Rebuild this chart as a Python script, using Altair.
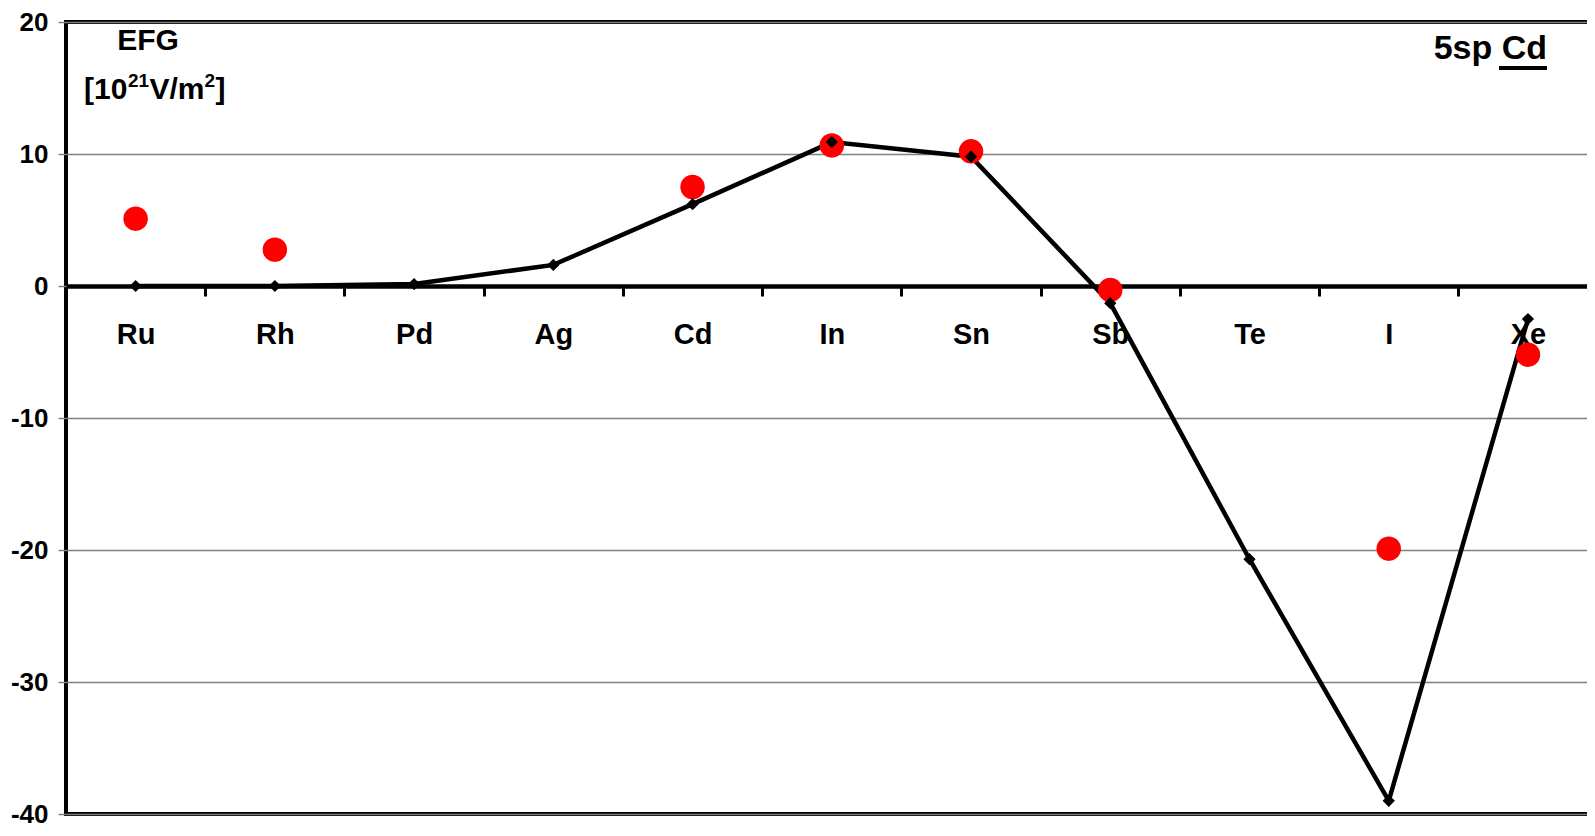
import altair as alt
import pandas as pd

# ---- data ----
elements = ["Ru", "Rh", "Pd", "Ag", "Cd", "In", "Sn", "Sb", "Te", "I", "Xe"]
calc_efg = [0.0, 0.0, 0.15, 1.6, 6.2, 10.9, 9.8, -1.3, -20.7, -39.0, -2.5]
exp_elements = ["Ru", "Rh", "Cd", "In", "Sn", "Sb", "I", "Xe"]
exp_efg = [5.1, 2.75, 7.5, 10.65, 10.2, -0.3, -19.9, -5.2]
y_ticks = [-40, -30, -20, -10, 0, 10, 20]

# unit label pieces: main text and superscripts
unit_main = ["[10", "V/m", "]"]
unit_sup = ["21", "2"]

calc_df = pd.DataFrame({"el": elements, "efg": calc_efg})
exp_df = pd.DataFrame({"el": exp_elements, "efg": exp_efg})

FONT = "Liberation Sans"
W = 1531.6
H = 792

x_enc = alt.X(
    "el:N",
    sort=elements,
    scale=alt.Scale(type="band", domain=elements, paddingInner=0, paddingOuter=0),
    axis=alt.Axis(
        title=None,
        orient="bottom",
        offset=-(H * 40 / 60),
        domainColor="black",
        domainWidth=4.5,
        tickColor="black",
        tickWidth=3,
        tickSize=10,
        tickBand="extent",
        labelFont=FONT,
        labelFontSize=29,
        labelFontWeight="bold",
        labelColor="black",
        labelPadding=24,
        labelAngle=0,
        grid=False,
    ),
)

y_enc = alt.Y(
    "efg:Q",
    scale=alt.Scale(domain=[-40, 20], nice=False, zero=False),
    axis=alt.Axis(
        title=None,
        values=y_ticks,
        domain=False,
        tickColor="#808080",
        tickWidth=1.5,
        tickSize=8,
        labelFont=FONT,
        labelFontSize=26,
        labelFontWeight="bold",
        labelColor="black",
        labelPadding=10,
        labelExpr="datum.value + ''",
        grid=True,
        gridColor="#808080",
        gridWidth=1.5,
    ),
)

line = alt.Chart(calc_df).mark_line(color="black", strokeWidth=4.5).encode(x=x_enc, y=y_enc)

red = alt.Chart(exp_df).mark_point(
    shape="circle", filled=True, color="#ff0000", size=600, opacity=1
).encode(x=alt.X("el:N", sort=elements), y=alt.Y("efg:Q"))

diamonds = alt.Chart(calc_df).mark_point(
    shape="diamond", filled=True, color="black", size=150, opacity=1
).encode(x=alt.X("el:N", sort=elements), y=alt.Y("efg:Q"))


def txt(s, x, y, size, align="left", baseline="alphabetic"):
    return alt.Chart(pd.DataFrame({"t": [s]})).mark_text(
        font=FONT, fontSize=size, fontWeight="bold", color="black",
        align=align, baseline=baseline,
    ).encode(text="t:N", x=alt.value(x), y=alt.value(y))


efg_txt = txt("EFG", 82, 19, 30, align="center", baseline="middle")

# [10^21 V/m^2]
base_y = 77
sup_y = 65
u1 = txt(unit_main[0], 18, base_y, 30)
s1 = txt(unit_sup[0], 62, sup_y, 19)
u2 = txt(unit_main[1], 83.5, base_y, 30)
s2 = txt(unit_sup[1], 138.5, sup_y, 19)
u3 = txt(unit_main[2], 149.5, base_y, 30)

lab_txt = txt("5sp Cd", 1481, 27, 34, align="right", baseline="middle")

underline = alt.Chart(pd.DataFrame({"t": ["u"]})).mark_rule(color="black", strokeWidth=4).encode(
    x=alt.value(1481 - 48), x2=alt.value(1481), y=alt.value(46)
)

chart = (
    alt.layer(line, red, diamonds, efg_txt, u1, s1, u2, s2, u3, lab_txt, underline)
    .properties(
        width=W,
        height=H,
        autosize=alt.AutoSizeParams(type="none"),
        padding={"left": 58, "right": -10.6, "top": 14, "bottom": 14},
    )
    .configure(background="white")
    .configure_view(stroke="black", strokeWidth=4)
)

chart.save("out.html", embed_options={"renderer": "svg", "actions": False})
